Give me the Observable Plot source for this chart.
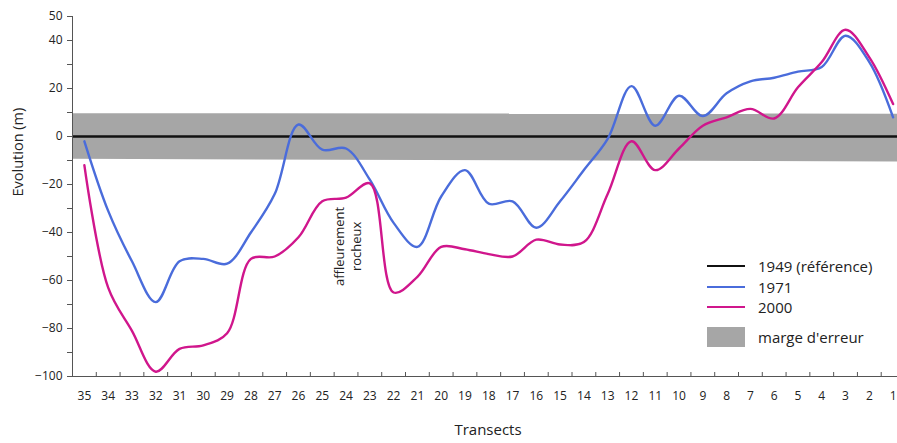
<!DOCTYPE html>
<html>
<head>
<meta charset="utf-8">
<script src="https://cdn.jsdelivr.net/npm/d3@7"></script>
<script src="https://cdn.jsdelivr.net/npm/@observablehq/plot@0.6"></script>
<style>
  html, body { margin: 0; padding: 0; background: #fff; overflow: hidden; }
  #wrap { position: relative; width: 897px; height: 443px; font-family: "Open Sans", sans-serif; }
  #wrap svg { overflow: hidden; }
  .legend { position: absolute; left: 707px; top: 256px; font-size: 15px; color: #222; }
  .legend .row { display: flex; align-items: center; height: 20.5px; }
  .legend .sw { width: 38px; height: 2px; margin-right: 13px; }
  .legend .box { width: 38px; height: 20px; margin-right: 13px; background: #a6a6a6; }
  .legend .row.big { height: 24px; margin-top: 7px; }
</style>
</head>
<body>
<div id="wrap">
  <div class="legend">
    <div class="row"><div class="sw" style="background:#111"></div>1949 (référence)</div>
    <div class="row"><div class="sw" style="background:#4a6cdb"></div>1971</div>
    <div class="row"><div class="sw" style="background:#d0168c"></div>2000</div>
    <div class="row big"><div class="box"></div>marge d'erreur</div>
  </div>
</div>
<script>
// Transect numbers (left to right)
const transects = [35,34,33,32,31,30,29,28,27,26,25,24,23,22,21,20,19,18,17,16,15,14,13,12,11,10,9,8,7,6,5,4,3,2,1];
// Evolution (m) relative to 1949
const evol1971 = [-2,-31,-52,-69,-52,-51,-53,-40,-24,5,-5.5,-5,-18,-36,-46,-25,-14,-28,-27,-38,-27,-14,-1,21,4.5,17,8.5,18,23,24.5,27,29,42,31,8];
const evol2000 = [-12,-63,-81,-98,-88.5,-87,-82,-51,-50,-42,-27,-25.5,-19.5,-65,-58.5,-46,-47,-49,-50,-43,-45,-44,-24,-2,-14,-5,4.5,8,11.5,7.5,20.5,31,44.5,33,13.5];
// Error margin band (left end, right end)
const marginLow = [-9.5, -10.6];
const marginHigh = [9.5, 9.3];
// Axis ticks
const yMajor = [50,40,20,0,-20,-40,-60,-80,-100];
const yMinor = [30,10,-10,-30,-50,-70,-90];
const annotation = [{t: 23.94, v: -45.8, label: "affleurement\nrocheux"}];

const xEnds = [d3.max(transects) + 0.5, d3.min(transects) - 0.5];
const xTicks = d3.range(xEnds[1], xEnds[0] + 0.01, 1);
const yDomain = [-100, 50];
const yRange = [376, 16];
const unitsPerPx = (yDomain[1] - yDomain[0]) / (yRange[0] - yRange[1]);

const s1971 = transects.map((t, i) => ({t, v: evol1971[i]}));
const s2000 = transects.map((t, i) => ({t, v: evol2000[i]}));
const band = xEnds.map((t, i) => ({t, lo: marginLow[i], hi: marginHigh[i]}));

const chart = Plot.plot({
  width: 897,
  height: 443,
  marginLeft: 72,
  marginRight: 0,
  marginTop: 16,
  marginBottom: 67,
  style: {fontFamily: "'Open Sans', sans-serif", background: "transparent", overflow: "hidden"},
  x: {domain: xEnds, range: [72, 904.5]},
  y: {domain: yDomain, range: yRange},
  marks: [
    Plot.areaY(band, {x: "t", y1: "lo", y2: "hi", fill: "#a6a6a6"}),
    Plot.ruleY([0], {x1: xEnds[0], x2: xEnds[1], stroke: "#111", strokeWidth: 2.4}),
    Plot.line(s1971, {x: "t", y: "v", curve: "catmull-rom", stroke: "#4a6cdb", strokeWidth: 2.4}),
    Plot.line(s2000, {x: "t", y: "v", curve: "catmull-rom", stroke: "#d0168c", strokeWidth: 2.4}),
    // axes lines
    Plot.ruleX([xEnds[0]], {y1: yDomain[0], y2: yDomain[1], stroke: "#555", strokeWidth: 1}),
    Plot.ruleY([yDomain[0]], {x1: xEnds[0], x2: xEnds[1], stroke: "#555", strokeWidth: 1}),
    // x ticks (inward) between transects
    Plot.ruleX(xTicks, {x: d => d, y1: yDomain[0], y2: yDomain[0] + 4 * unitsPerPx, stroke: "#555", strokeWidth: 1}),
    Plot.axisX(transects, {tickSize: 0, tickPadding: 15, fontSize: 12, fill: "#222", label: null, tickFormat: d => String(d)}),
    Plot.axisY(yMajor, {tickSize: 5, tickPadding: 5, fontSize: 12, fill: "#222", stroke: "#555", label: null}),
    Plot.axisY(yMinor, {tickSize: 5, tickFormat: () => "", stroke: "#555", label: null}),
    // titles
    Plot.text(["Evolution (m)"], {frameAnchor: "left", dx: -54, rotate: -90, fontSize: 14.5, fill: "#222"}),
    Plot.text(["Transects"], {frameAnchor: "bottom", dy: 58, dx: 3, fontSize: 15, fill: "#222"}),
    Plot.text(annotation, {x: "t", y: "v", text: "label", rotate: -90, fontSize: 13, lineHeight: 1.3, fill: "#222"})
  ]
});
document.getElementById("wrap").prepend(chart);
</script>
</body>
</html>
